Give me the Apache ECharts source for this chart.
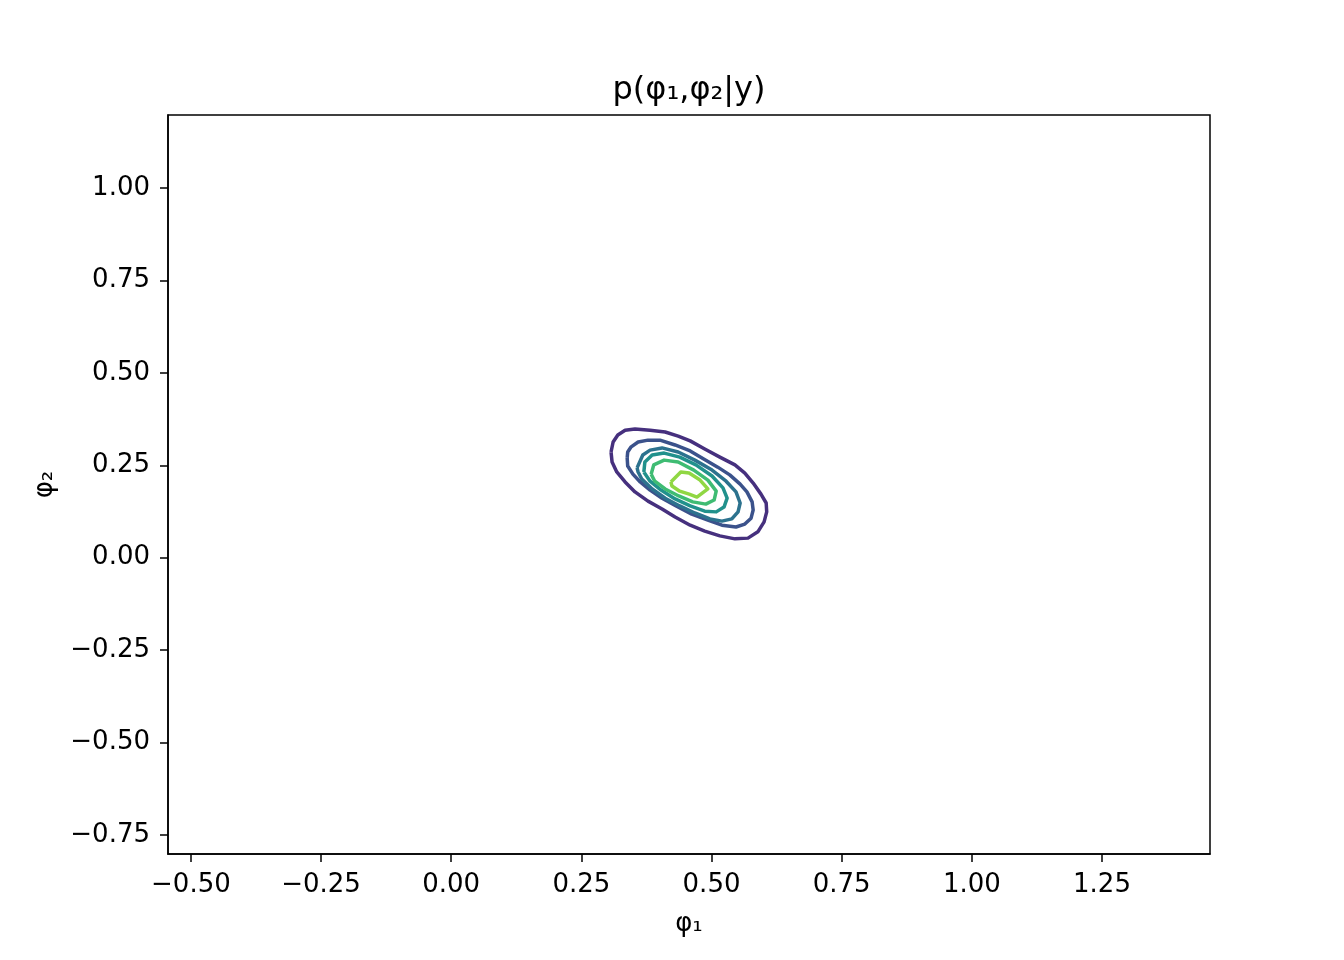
<!DOCTYPE html>
<html>
<head>
<meta charset="utf-8">
<script src="https://cdn.jsdelivr.net/npm/echarts@6/dist/echarts.min.js"></script>
<style>html,body{margin:0;padding:0;background:#fff}#c{width:1344px;height:960px}</style>
</head>
<body>
<div id="c"></div>
<script>
// Tick values
const xTicks = [-0.5, -0.25, 0, 0.25, 0.5, 0.75, 1.0, 1.25];
const yTicks = [-0.75, -0.5, -0.25, 0, 0.25, 0.5, 0.75, 1.0];
const xRange = [-0.544, 1.4575];
const yRange = [-0.8014, 1.1975];

// Contour levels (outer to inner), each a closed polyline [phi1, phi2]
const level1 = [[0.307,0.286],[0.309,0.259],[0.318,0.232],[0.334,0.205],[0.353,0.178],[0.378,0.153],[0.405,0.132],[0.430,0.110],[0.459,0.088],[0.487,0.072],[0.516,0.059],[0.545,0.051],[0.570,0.053],[0.589,0.070],[0.601,0.097],[0.606,0.124],[0.605,0.148],[0.595,0.172],[0.580,0.202],[0.564,0.229],[0.545,0.251],[0.516,0.272],[0.487,0.294],[0.459,0.316],[0.436,0.329],[0.411,0.340],[0.382,0.345],[0.353,0.348],[0.334,0.345],[0.320,0.332],[0.311,0.313]];
const level2 = [[0.338,0.270],[0.339,0.248],[0.349,0.226],[0.363,0.205],[0.382,0.183],[0.405,0.161],[0.432,0.140],[0.462,0.118],[0.493,0.102],[0.520,0.088],[0.547,0.083],[0.564,0.091],[0.576,0.107],[0.580,0.129],[0.578,0.151],[0.568,0.178],[0.555,0.199],[0.535,0.224],[0.512,0.245],[0.485,0.267],[0.459,0.289],[0.430,0.305],[0.401,0.318],[0.378,0.318],[0.359,0.313],[0.345,0.299],[0.339,0.286]];
const level3 = [[0.357,0.243],[0.368,0.278],[0.382,0.291],[0.405,0.297],[0.436,0.286],[0.468,0.264],[0.501,0.237],[0.528,0.207],[0.547,0.178],[0.555,0.148],[0.551,0.124],[0.539,0.105],[0.520,0.099],[0.497,0.105],[0.468,0.121],[0.439,0.140],[0.411,0.161],[0.386,0.186],[0.366,0.213],[0.359,0.232]];
const level4 = [[0.370,0.232],[0.372,0.259],[0.386,0.278],[0.409,0.283],[0.439,0.272],[0.470,0.251],[0.501,0.221],[0.522,0.189],[0.530,0.161],[0.524,0.137],[0.509,0.124],[0.487,0.126],[0.459,0.140],[0.430,0.159],[0.403,0.183],[0.382,0.207]];
const level5 = [[0.384,0.226],[0.389,0.251],[0.409,0.264],[0.436,0.259],[0.466,0.237],[0.493,0.210],[0.509,0.180],[0.505,0.156],[0.489,0.145],[0.464,0.151],[0.437,0.167],[0.411,0.186],[0.391,0.207]];
const level6 = [[0.422,0.205],[0.441,0.232],[0.457,0.229],[0.478,0.210],[0.493,0.186],[0.472,0.164],[0.457,0.172],[0.439,0.180],[0.424,0.194]];
const levels = [level1, level2, level3, level4, level5, level6];
const levelColors = ['#46307e', '#3b528b', '#2c728e', '#21918c', '#3fbc73', '#90d743'];

const fmt = v => (v < 0 ? '\u2212' : '') + Math.abs(v).toFixed(2);
const FONT = 'DejaVu Sans';

const series = levels.map((pts, i) => ({
  type: 'line',
  data: pts.concat([pts[0]]),
  showSymbol: false,
  symbol: 'none',
  smooth: false,
  silent: true,
  lineStyle: { color: levelColors[i], width: 3.5, join: 'round' },
  animation: false
}));

const chart = echarts.init(document.getElementById('c'), null, { renderer: 'canvas' });
chart.setOption({
  animation: false,
  backgroundColor: '#fff',
  grid: { left: 168, top: 115, width: 1042, height: 739, show: true, borderColor: '#000', borderWidth: 1.5, backgroundColor: 'transparent' },
  graphic: [{
    type: 'text', x: 689, y: 91,
    style: { text: 'p(φ₁,φ₂|y)', font: '32px "DejaVu Sans"', fill: '#000', textAlign: 'center', textVerticalAlign: 'middle' }
  }],
  xAxis: {
    type: 'value', min: xRange[0], max: xRange[1],
    name: 'φ₁', nameLocation: 'middle', nameGap: 57,
    nameTextStyle: { fontFamily: FONT, fontSize: 26, color: '#000' },
    axisLine: { show: true, onZero: false, lineStyle: { color: '#000', width: 1.5 } },
    axisTick: { show: true, customValues: xTicks, length: 8, lineStyle: { color: '#000', width: 1.5 } },
    axisLabel: { customValues: xTicks, formatter: fmt, margin: 18, fontFamily: FONT, fontSize: 26, color: '#000' },
    splitLine: { show: false }
  },
  yAxis: {
    type: 'value', min: yRange[0], max: yRange[1],
    name: 'φ₂', nameLocation: 'middle', nameGap: 110, nameRotate: 90,
    nameTextStyle: { fontFamily: FONT, fontSize: 26, color: '#000' },
    axisLine: { show: true, onZero: false, lineStyle: { color: '#000', width: 1.5 } },
    axisTick: { show: true, customValues: yTicks, length: 8, lineStyle: { color: '#000', width: 1.5 } },
    axisLabel: { customValues: yTicks, formatter: fmt, margin: 18, fontFamily: FONT, fontSize: 26, color: '#000' },
    splitLine: { show: false }
  },
  series: series
});
</script>
</body>
</html>
